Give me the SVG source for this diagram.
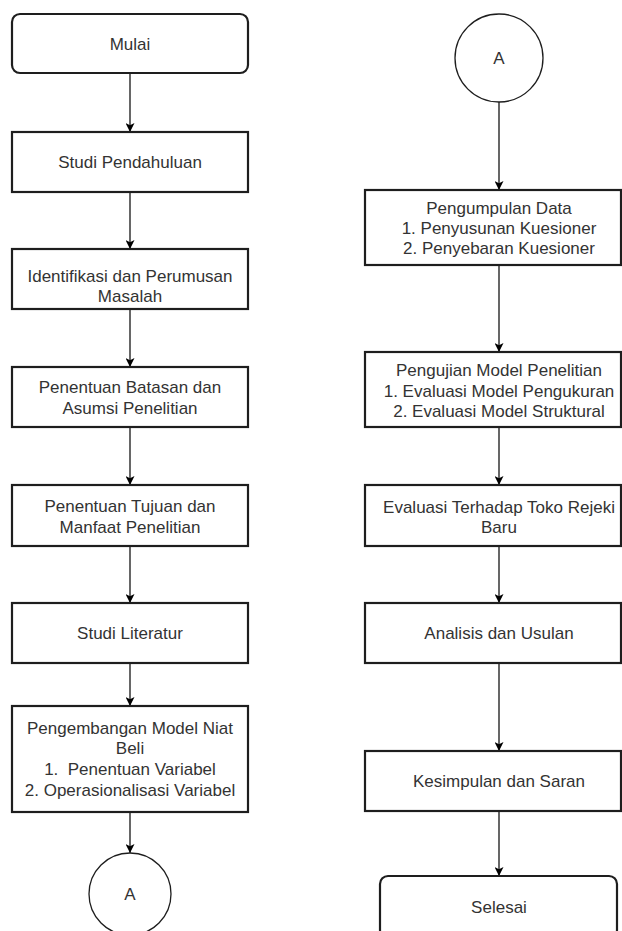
<svg xmlns="http://www.w3.org/2000/svg" width="622" height="931" viewBox="0 0 622 931">
<style>
.box{fill:#fff;stroke:#1e1e1e;stroke-width:2.2}
.circ{fill:#fff;stroke:#1e1e1e;stroke-width:1.3}
.t{font-family:"Liberation Sans",Arial,sans-serif;font-size:17px;fill:#333;text-anchor:middle;white-space:pre}
.c{stroke:#000;stroke-width:1.2;fill:none;marker-end:url(#ah)}
</style>
<defs>
<marker id="ah" viewBox="0 0 10 10" refX="10" refY="5" markerWidth="9" markerHeight="9" markerUnits="userSpaceOnUse" orient="auto">
<path d="M0,0 L10,5 L0,10 L2.5,5 Z" fill="#000"/>
</marker>
</defs>
<rect width="622" height="931" fill="#fff"/>
<g id="connectors">
<path class="c" d="M130,73 V132"/>
<path class="c" d="M130,192 V249"/>
<path class="c" d="M130,309 V367"/>
<path class="c" d="M130,427 V485"/>
<path class="c" d="M130,546 V603"/>
<path class="c" d="M130,663 V706"/>
<path class="c" d="M130,812 V853"/>
<path class="c" d="M499,102 V190"/>
<path class="c" d="M499,265 V352"/>
<path class="c" d="M499,427 V485"/>
<path class="c" d="M499,546 V603"/>
<path class="c" d="M499,663 V751"/>
<path class="c" d="M499,811 V876"/>
</g>
<g id="mulai"><rect class="box" x="12" y="14" width="236" height="59" rx="8"/><text class="t" x="130" y="49.5">Mulai</text></g>
<g id="studi-pendahuluan"><rect class="box" x="12" y="132" width="236" height="60"/><text class="t" x="130" y="168">Studi Pendahuluan</text></g>
<g id="identifikasi"><rect class="box" x="12" y="249" width="236" height="60"/><text class="t" x="130" y="282">Identifikasi dan Perumusan</text><text class="t" x="130" y="302">Masalah</text></g>
<g id="batasan"><rect class="box" x="12" y="367" width="236" height="60"/><text class="t" x="130" y="393">Penentuan Batasan dan</text><text class="t" x="130" y="414">Asumsi Penelitian</text></g>
<g id="tujuan"><rect class="box" x="12" y="485" width="236" height="61"/><text class="t" x="130" y="512">Penentuan Tujuan dan</text><text class="t" x="130" y="533">Manfaat Penelitian</text></g>
<g id="studi-literatur"><rect class="box" x="12" y="603" width="236" height="60"/><text class="t" x="130" y="639">Studi Literatur</text></g>
<g id="pengembangan"><rect class="box" x="12" y="706" width="236" height="106"/><text class="t" x="130" y="734">Pengembangan Model Niat</text><text class="t" x="130" y="754">Beli</text><text class="t" x="130" y="775">1.  Penentuan Variabel</text><text class="t" x="130" y="796">2. Operasionalisasi Variabel</text></g>
<g id="a-bottom"><circle class="circ" cx="130" cy="894" r="41"/><text class="t" x="130" y="900">A</text></g>
<g id="a-top"><circle class="circ" cx="499" cy="58" r="44"/><text class="t" x="499" y="64">A</text></g>
<g id="pengumpulan"><rect class="box" x="365" y="190" width="256" height="75"/><text class="t" x="499" y="214">Pengumpulan Data</text><text class="t" x="499" y="234">1. Penyusunan Kuesioner</text><text class="t" x="499" y="254">2. Penyebaran Kuesioner</text></g>
<g id="pengujian"><rect class="box" x="365" y="352" width="256" height="75"/><text class="t" x="499" y="376">Pengujian Model Penelitian</text><text class="t" x="499" y="396.5">1. Evaluasi Model Pengukuran</text><text class="t" x="499" y="416.5">2. Evaluasi Model Struktural</text></g>
<g id="evaluasi"><rect class="box" x="365" y="485" width="256" height="61"/><text class="t" x="499" y="512.5">Evaluasi Terhadap Toko Rejeki</text><text class="t" x="499" y="532.5">Baru</text></g>
<g id="analisis"><rect class="box" x="365" y="603" width="256" height="60"/><text class="t" x="499" y="639">Analisis dan Usulan</text></g>
<g id="kesimpulan"><rect class="box" x="365" y="751" width="256" height="60"/><text class="t" x="499" y="787">Kesimpulan dan Saran</text></g>
<g id="selesai"><rect class="box" x="380" y="876" width="237" height="62" rx="8"/><text class="t" x="499" y="912.5">Selesai</text></g>
</svg>
